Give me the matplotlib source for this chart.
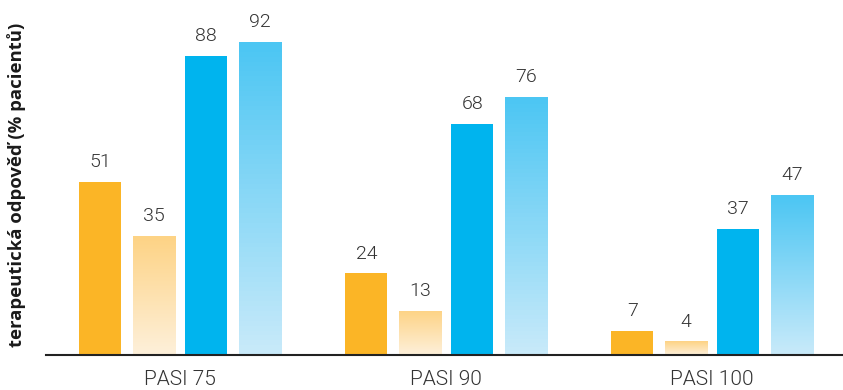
import numpy as np
import matplotlib
matplotlib.use("Agg")
import matplotlib.pyplot as plt
from matplotlib.colors import to_rgb

categories = ["PASI 75", "PASI 90", "PASI 100"]
series_a = [51, 24, 7]     # solid orange
series_b = [35, 13, 4]     # pale orange
series_c = [88, 68, 37]    # solid blue
series_d = [92, 76, 47]    # pale blue

W, H = 843, 390
fig = plt.figure(figsize=(W / 100, H / 100), dpi=100)
ax = fig.add_axes([46 / W, (H - 355) / H, (W - 46) / W, 340 / H])

offsets = [-0.30, -0.098, 0.098, 0.30]
width = 0.158
x = np.arange(len(categories))


def gradient_bars(ax, xs, vals, top, bottom):
    top = np.array(to_rgb(top))
    bottom = np.array(to_rgb(bottom))
    for xi, v in zip(xs, vals):
        bar = ax.bar(xi, v, width=width, color="none", edgecolor="none")[0]
        t = np.linspace(0, 1, 64)[:, None, None]
        img = top * (1 - t) + bottom * t
        im = ax.imshow(img, extent=(xi - width / 2, xi + width / 2, 0, v),
                       aspect="auto", origin="upper", zorder=2)
        im.set_clip_path(bar)


ax.bar(x + offsets[0], series_a, width=width, color="#FBB526", zorder=2)
gradient_bars(ax, x + offsets[1], series_b, "#FDD385", "#FEF0DA")
ax.bar(x + offsets[2], series_c, width=width, color="#00B4EE", zorder=2)
gradient_bars(ax, x + offsets[3], series_d, "#4CC6F3", "#C8EAFA")

label_font = dict(family="Roboto", fontweight=300, color="#333333")
for off, vals in zip(offsets, [series_a, series_b, series_c, series_d]):
    for xi, v in zip(x + off, vals):
        ax.text(xi, v + 3.2, str(v), ha="center", va="bottom",
                fontsize=14, **label_font)

ax.set_xlim(-0.504, 2.492)
ax.set_ylim(0, 100)
for s in ["top", "right", "left"]:
    ax.spines[s].set_visible(False)
ax.spines["bottom"].set_linewidth(1.5)
ax.spines["bottom"].set_color("#222222")
ax.set_yticks([])
ax.set_xticks(x)
ax.set_xticklabels(categories, fontsize=15, **label_font)
ax.tick_params(axis="x", length=0, pad=11)

fig.text(17 / W, 1 - 185 / H, "terapeutická odpověď (% pacientů)",
         rotation=90, ha="center", va="center", fontsize=13.3,
         fontweight="bold", family="Open Sans", color="#1a1a1a")

fig.savefig("out.png", dpi=100)
